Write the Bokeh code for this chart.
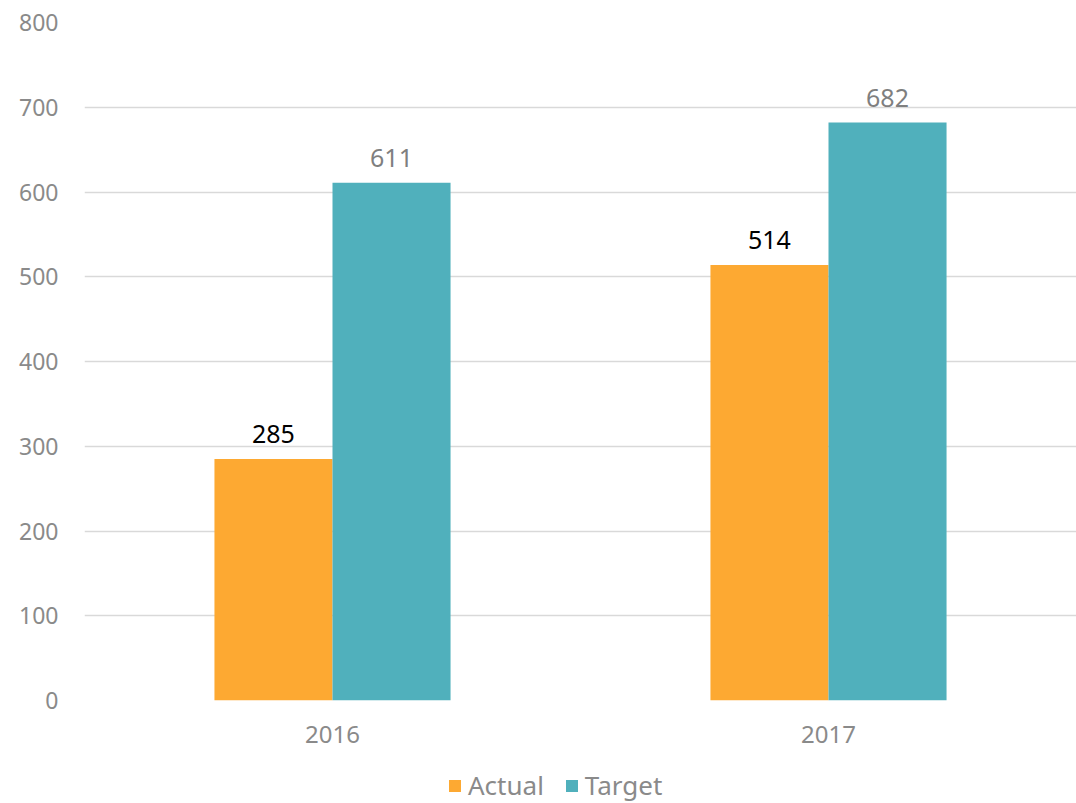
from bokeh.plotting import figure
from bokeh.layouts import column
from bokeh.models import ColumnDataSource, FactorRange, Legend, LegendItem, LabelSet, Range1d, FixedTicker
from bokeh.transform import dodge
from bokeh.core.properties import value
from bokeh.embed import file_html
from bokeh.resources import INLINE

years = ["2016", "2017"]
actual = [285, 514]
target = [611, 682]
y_ticks = [0, 100, 200, 300, 400, 500, 600, 700, 800]

FONT = "Noto Sans"
GRAY = "#8a8a8a"
ORANGE = "#FDA932"
TEAL = "#50B0BC"

src = ColumnDataSource(dict(year=years, actual=actual, target=target,
                            alab=[str(v) for v in actual], tlab=[str(v) for v in target]))

p = figure(x_range=FactorRange(*years, range_padding=0), y_range=Range1d(0, 800),
           frame_width=992, frame_height=678, min_border_left=84, min_border_right=0,
           min_border_top=22, min_border_bottom=60,
           output_backend="svg", toolbar_location=None)

bw = 0.238
ra = p.vbar(x=dodge("year", -bw / 2, range=p.x_range), top="actual", width=bw, source=src,
            fill_color=ORANGE, line_color=None)
rt = p.vbar(x=dodge("year", bw / 2, range=p.x_range), top="target", width=bw, source=src,
            fill_color=TEAL, line_color=None)

p.add_layout(LabelSet(x=dodge("year", -bw / 2, range=p.x_range), y="actual", text="alab", source=src,
                      text_align="center", text_baseline="alphabetic", y_offset=16,
                      text_font=value(FONT), text_font_size="25px", text_color="#000000"))
p.add_layout(LabelSet(x=dodge("year", bw / 2, range=p.x_range), y="target", text="tlab", source=src,
                      text_align="center", text_baseline="alphabetic", y_offset=16,
                      text_font=value(FONT), text_font_size="25px", text_color="#7f7f7f"))

p.outline_line_color = None
p.xgrid.grid_line_color = None
p.ygrid.grid_line_color = "#d9d9d9"
p.ygrid.grid_line_width = 1.5
p.yaxis.ticker = FixedTicker(ticks=y_ticks)
for ax in (p.xaxis, p.yaxis):
    ax.axis_line_color = None
    ax.major_tick_line_color = None
    ax.minor_tick_line_color = None
    ax.major_label_text_font = FONT
    ax.major_label_text_color = GRAY
p.yaxis.major_label_text_font_size = "23px"
p.xaxis.major_label_text_font_size = "24px"
p.yaxis.major_label_standoff = 20
p.xaxis.major_label_standoff = 19

# legend strip under the chart
lg = figure(x_range=Range1d(0, 1), y_range=Range1d(0, 1), width=1076, height=43,
            min_border=0, output_backend="svg", toolbar_location=None)
lg.axis.visible = False
lg.grid.visible = False
lg.outline_line_color = None
la = lg.vbar(x=[-10], top=[-10], width=0.1, fill_color=ORANGE, line_color=None)
lt = lg.vbar(x=[-10], top=[-10], width=0.1, fill_color=TEAL, line_color=None)
legend = Legend(items=[LegendItem(label="Actual", renderers=[la]),
                       LegendItem(label="Target", renderers=[lt])],
                orientation="horizontal", location=(363, 0),
                label_text_font=FONT, label_text_font_size="26px", label_text_color=GRAY,
                glyph_width=15, glyph_height=15, label_standoff=6, spacing=20,
                border_line_color=None, background_fill_alpha=0, padding=0, margin=0)
lg.add_layout(legend, "center")

layout = column(p, lg, spacing=0)
open("out.html", "w").write(file_html(layout, INLINE))
